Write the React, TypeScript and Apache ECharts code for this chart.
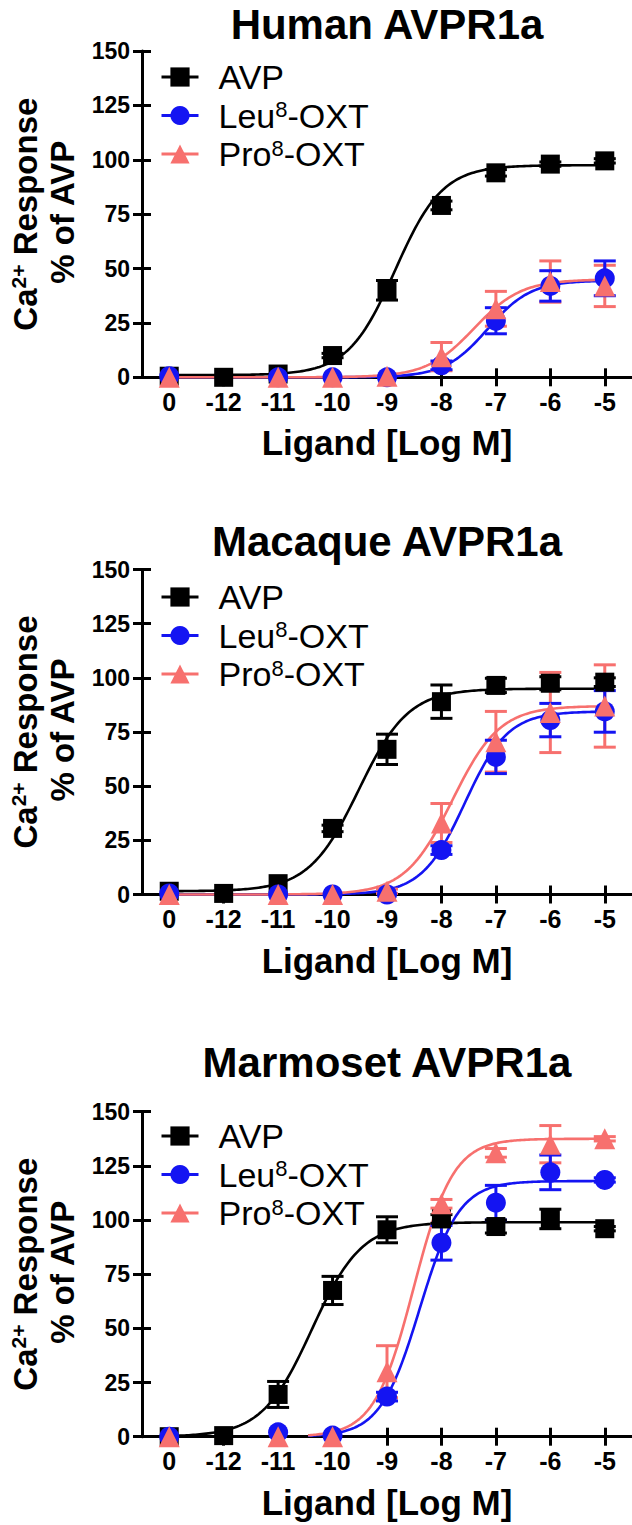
import React, { useEffect, useRef } from 'react';
import * as echarts from 'echarts';

// ---------- data ----------
const xTicks = [-13, -12, -11, -10, -9, -8, -7, -6, -5];
const xTickLabels = ['0', '-12', '-11', '-10', '-9', '-8', '-7', '-6', '-5'];
const yMin = 0;
const yMax = 150;
const yStep = 25;

const panelTitles = ['Human AVPR1a', 'Macaque AVPR1a', 'Marmoset AVPR1a'];
const seriesNames = ['AVP', 'Leu8-OXT', 'Pro8-OXT'];

// Human AVPR1a (mean, SEM) at xTicks
const humanAVP = [0.5, 0, 1.5, 10, 40, 79, 94, 98, 99.5];
const humanAVPErr = [0, 0, 0, 1, 4.5, 2, 1.5, 1, 1];
const humanLeu = [0.5, null, 0, 0, 0, 5.5, 26, 42, 45.5];
const humanLeuErr = [0, null, 0, 0, 0, 2, 6, 7, 8];
const humanPro = [0, null, 0, 0, 0.5, 9.5, 31.5, 44, 42];
const humanProErr = [0, null, 0, 0, 0, 6.5, 8, 9.5, 9.5];

// Macaque AVPR1a
const macaqueAVP = [1.5, 0.5, 5, 30.5, 67, 89, 96.5, 97.5, 98];
const macaqueAVPErr = [0, 0, 0, 1.5, 7, 7.7, 3.3, 3, 2];
const macaqueLeu = [0.5, null, 0, 0, 0, 20.5, 63.5, 80.5, 84.5];
const macaqueLeuErr = [0, null, 0, 0, 0, 2, 7.7, 7.7, 9.6];
const macaquePro = [0, null, 0, 0, 1.5, 33, 70.5, 84, 87];
const macaqueProErr = [0, null, 0, 0, 1, 9, 14, 18.5, 19];

// Marmoset AVPR1a
const marmosetAVP = [0, 0.5, 19.5, 67.5, 95.5, 100.5, 97, 100.5, 96];
const marmosetAVPErr = [0, 0, 6, 6.5, 6, 2, 3, 4.5, 1];
const marmosetLeu = [0, null, 2, 0.5, 18.5, 89.5, 108, 122, 118.5];
const marmosetLeuErr = [0, null, 0, 0, 2, 8, 8, 8, 1];
const marmosetPro = [0, null, 0, 0, 30, 107.5, 131, 135, 137.5];
const marmosetProErr = [0, null, 0, 0, 12, 2, 2, 8.6, 1];

// fitted curves: [bottom, top, logEC50, hill, xFrom, xTo]
const humanAVPFit = [1, 97.5, -8.85, 1.0, -13, -5];
const humanLeuFit = [0, 44.5, -7.15, 1.1, -13, -5];
const humanProFit = [0, 45, -7.4, 1.0, -13, -5];
const macaqueAVPFit = [1.5, 95, -9.52, 0.95, -13, -5];
const macaqueLeuFit = [0, 84.5, -7.57, 1.1, -13, -5];
const macaqueProFit = [0, 87, -7.8, 1.0, -13, -5];
const marmosetAVPFit = [0, 99, -10.38, 0.95, -13, -5];
const marmosetLeuFit = [0, 118, -8.4, 1.2, -10.45, -5];
const marmosetProFit = [0, 137.5, -8.51, 1.2, -10.45, -5];

// ---------- styles / layout ----------
const FONT = 'Liberation Sans, Arial, Helvetica, sans-serif';
const colors = ['#000000', '#1414F2', '#F7706E'];
const symbols = ['rect', 'circle', 'triangle'];
const symbolSizes = [19, 20, 21];

const gridLeft = 142;
const gridTops = [51, 569.5, 1111.7];
const gridHeights = [326.3, 325, 325];
const titleYs = [24, 541, 1062];
const legendTops = [60, 580, 1119];

const panels = [
  {
    values: [humanAVP, humanLeu, humanPro],
    errs: [humanAVPErr, humanLeuErr, humanProErr],
    fits: [humanAVPFit, humanLeuFit, humanProFit],
  },
  {
    values: [macaqueAVP, macaqueLeu, macaquePro],
    errs: [macaqueAVPErr, macaqueLeuErr, macaqueProErr],
    fits: [macaqueAVPFit, macaqueLeuFit, macaqueProFit],
  },
  {
    values: [marmosetAVP, marmosetLeu, marmosetPro],
    errs: [marmosetAVPErr, marmosetLeuErr, marmosetProErr],
    fits: [marmosetAVPFit, marmosetLeuFit, marmosetProFit],
  },
];

function buildOption() {
  const grids: any[] = [];
  const xAxes: any[] = [];
  const yAxes: any[] = [];
  const series: any[] = [];
  const legends: any[] = [];
  const graphics: any[] = [];

  panels.forEach((p, pi) => {
    grids.push({ left: gridLeft, right: 0, top: gridTops[pi], height: gridHeights[pi], containLabel: false });
    const xMain = {
      type: 'value', gridIndex: pi, min: -13.5, max: -4.5, position: 'bottom',
      axisLine: { show: true, onZero: false, lineStyle: { color: '#000', width: 3 } },
      axisTick: { show: true, length: 9, customValues: xTicks, lineStyle: { color: '#000', width: 3 } },
      axisLabel: {
        show: true, customValues: xTicks, margin: 12, color: '#000', fontSize: 25, fontWeight: 'bold', fontFamily: FONT,
        formatter: (v: number) => xTickLabels[xTicks.indexOf(Math.round(v))] ?? '',
      },
      splitLine: { show: false },
    };
    const xInner = {
      type: 'value', gridIndex: pi, min: -13.5, max: -4.5, position: 'bottom',
      axisLine: { show: false, onZero: false },
      axisTick: { show: true, inside: true, length: 9, customValues: xTicks, lineStyle: { color: '#000', width: 3 } },
      axisLabel: { show: false },
      splitLine: { show: false },
    };
    const yMain = {
      type: 'value', gridIndex: pi, min: yMin, max: yMax, interval: yStep, position: 'left',
      axisLine: { show: true, onZero: false, lineStyle: { color: '#000', width: 3 } },
      axisTick: { show: true, length: 9, lineStyle: { color: '#000', width: 3 } },
      axisLabel: { show: true, margin: 12, color: '#000', fontSize: 23, fontWeight: 'bold', fontFamily: FONT },
      splitLine: { show: false },
    };
    const yInner = {
      type: 'value', gridIndex: pi, min: yMin, max: yMax, interval: yStep, position: 'left',
      axisLine: { show: false, onZero: false },
      axisTick: { show: true, inside: true, length: 9, lineStyle: { color: '#000', width: 3 } },
      axisLabel: { show: false },
      splitLine: { show: false },
    };
    xAxes.push(xMain, xInner);
    yAxes.push(yMain, yInner);
    const xi = pi * 2;
    const yi = pi * 2;

    // fitted curves
    p.fits.forEach((fit, si) => {
      series.push({
        type: 'custom', name: seriesNames[si] + ' fit', xAxisIndex: xi, yAxisIndex: yi,
        silent: true, clip: false,
        encode: { x: 4, y: 0 },
        data: [fit],
        renderItem: (params: any, api: any) => {
          const b = api.value(0), t = api.value(1), ec = api.value(2), h = api.value(3);
          const x0 = api.value(4), x1 = api.value(5);
          const pts: number[][] = [];
          const n = 200;
          for (let k = 0; k <= n; k++) {
            const x = x0 + ((x1 - x0) * k) / n;
            const y = b + (t - b) / (1 + Math.pow(10, (ec - x) * h));
            pts.push(api.coord([x, y]));
          }
          return {
            type: 'polyline', shape: { points: pts },
            style: { stroke: colors[si], lineWidth: 2.6, fill: 'none' },
          };
        },
      });
    });

    // error bars (Pro, Leu, AVP)
    [2, 1, 0].forEach((si) => {
      const data: number[][] = [];
      p.values[si].forEach((v, k) => {
        const e = p.errs[si][k];
        if (v !== null && e !== null && (e as number) > 0) data.push([xTicks[k], v as number, e as number]);
      });
      series.push({
        type: 'custom', name: seriesNames[si] + ' err', xAxisIndex: xi, yAxisIndex: yi,
        silent: true,
        encode: { x: 0, y: 1 },
        data,
        renderItem: (params: any, api: any) => {
          const x = api.value(0), y = api.value(1), e = api.value(2);
          const top = api.coord([x, y + e]);
          const bot = api.coord([x, y - e]);
          const hw = 11;
          const st = { stroke: colors[si], lineWidth: 3 };
          return {
            type: 'group',
            children: [
              { type: 'line', shape: { x1: top[0], y1: top[1], x2: bot[0], y2: bot[1] }, style: st },
              { type: 'line', shape: { x1: top[0] - hw, y1: top[1], x2: top[0] + hw, y2: top[1] }, style: st },
              { type: 'line', shape: { x1: bot[0] - hw, y1: bot[1], x2: bot[0] + hw, y2: bot[1] }, style: st },
            ],
          };
        },
      });
    });

    // data points
    [0, 1, 2].forEach((si) => {
      const data: number[][] = [];
      p.values[si].forEach((v, k) => {
        if (v !== null) data.push([xTicks[k], v as number]);
      });
      series.push({
        type: 'line', name: seriesNames[si], xAxisIndex: xi, yAxisIndex: yi,
        data, symbol: symbols[si], symbolSize: symbolSizes[si], showSymbol: true, showAllSymbol: true,
        itemStyle: { color: colors[si], borderWidth: 0 },
        lineStyle: { width: 0, opacity: 0, color: colors[si] },
        emphasis: { disabled: true }, silent: true, clip: false,
      });
    });

    legends.push({
      orient: 'vertical', left: 160, top: legendTops[pi], padding: 0,
      itemWidth: 37, itemHeight: 24, itemGap: 4.5, selectedMode: false,
      data: seriesNames.map((n) => ({ name: n })),
      lineStyle: { width: 3, opacity: 1 },
      textStyle: {
        color: '#000', fontFamily: FONT, fontSize: 34,
        rich: {
          a: { color: '#000', fontFamily: FONT, fontSize: 34, lineHeight: 34, padding: [0, 0, 0, 15] },
          s: { color: '#000', fontFamily: FONT, fontSize: 22, verticalAlign: 'top' },
          b: { color: '#000', fontFamily: FONT, fontSize: 34, lineHeight: 34 },
        },
      },
      formatter: (name: string) => (name === 'AVP' ? '{a|AVP}' : '{a|' + name.slice(0, 3) + '}{s|8}{b|-OXT}'),
    });

    const gTop = gridTops[pi];
    const gBot = gridTops[pi] + gridHeights[pi];
    const gMid = (gTop + gBot) / 2;

    graphics.push({
      type: 'text', x: 387, y: titleYs[pi],
      style: { text: panelTitles[pi], fontFamily: FONT, fontSize: 42, fontWeight: 'bold', fill: '#000', align: 'center', verticalAlign: 'middle' },
    });
    graphics.push({
      type: 'text', x: 387, y: gBot + 65.5,
      style: { text: 'Ligand [Log M]', fontFamily: FONT, fontSize: 35, fontWeight: 'bold', fill: '#000', align: 'center', verticalAlign: 'middle' },
    });
    graphics.push({
      type: 'text', x: 25, y: gMid, rotation: Math.PI / 2,
      style: {
        text: '{a|Ca}{s|2+}{a| Response}', fill: '#000', align: 'center', verticalAlign: 'middle',
        fontFamily: FONT, fontSize: 33, fontWeight: 'bold',
        rich: {
          a: { fontFamily: FONT, fontSize: 33, fontWeight: 'bold', fill: '#000', lineHeight: 34 },
          s: { fontFamily: FONT, fontSize: 21, fontWeight: 'bold', fill: '#000', verticalAlign: 'top' },
        },
      },
    });
    graphics.push({
      type: 'text', x: 62, y: gMid - 2, rotation: Math.PI / 2,
      style: { text: '% of AVP', fontFamily: FONT, fontSize: 33, fontWeight: 'bold', fill: '#000', align: 'center', verticalAlign: 'middle' },
    });
  });

  return {
    animation: false,
    backgroundColor: '#ffffff',
    grid: grids,
    xAxis: xAxes,
    yAxis: yAxes,
    legend: legends,
    series,
    graphic: graphics,
  };
}

export default function App() {
  const ref = useRef<HTMLDivElement>(null);
  useEffect(() => {
    document.body.style.margin = '0';
    if (!ref.current) return;
    const chart = echarts.init(ref.current, null, { renderer: 'svg' });
    chart.setOption(buildOption() as any);
    return () => chart.dispose();
  }, []);
  return <div ref={ref} style={{ position: 'absolute', left: 0, top: 0, width: 632, height: 1525, background: '#fff' }} />;
}
